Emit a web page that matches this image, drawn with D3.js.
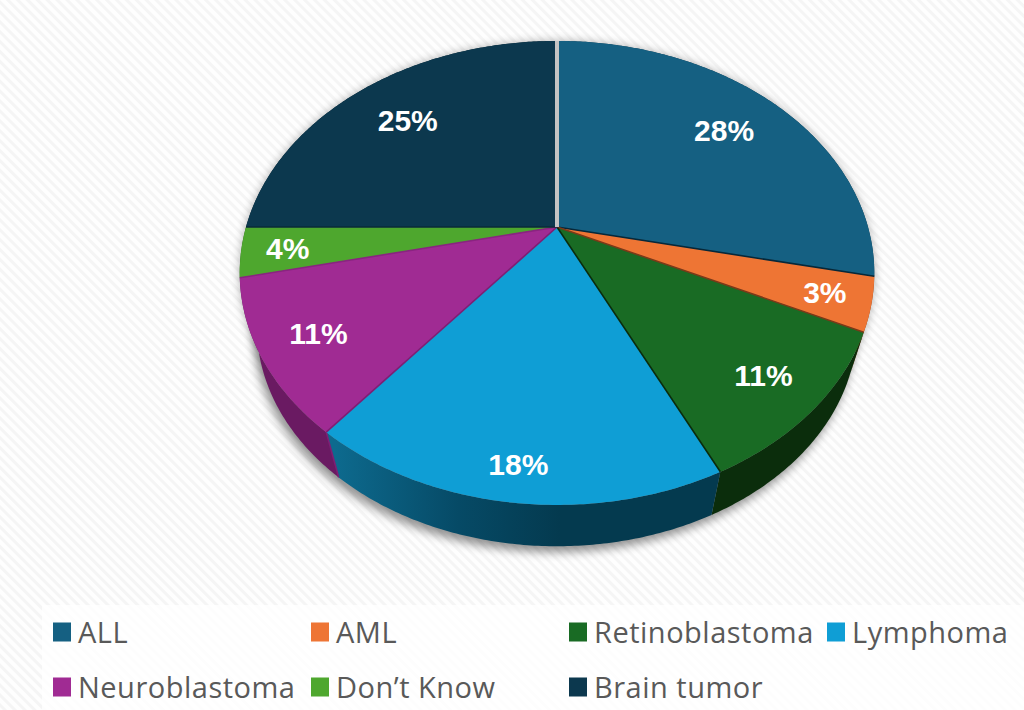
<!DOCTYPE html>
<html lang="en">
<head>
    <meta charset="UTF-8" />
    <title>Pie chart</title>
    <script src="https://d3js.org/d3.v7.min.js"></script>
    <style>
        html, body { margin: 0; padding: 0; background: #fff; }
        svg { display: block; }
        .pct { font-family: "Liberation Sans", sans-serif; font-weight: 700; font-size: 30px; fill: #fff; text-anchor: middle; dominant-baseline: central; }
        .legend-text { font-family: "Open Sans", sans-serif; font-size: 29px; letter-spacing: 0.5px; fill: #595959; dominant-baseline: central; }
    </style>
</head>
<body>
    <script>
        // data (slice widths) and its printed labels
        const categories = ["ALL", "AML", "Retinoblastoma", "Lymphoma", "Neuroblastoma", "Don\u2019t Know", "Brain tumor"];
        const shares = [28.4, 3.7, 10.8, 17.9, 10.7, 3.5, 25];
        const percentLabels = ["28%", "3%", "11%", "18%", "11%", "4%", "25%"];

        const colors = ["#156082", "#ee7534", "#196b24", "#0f9ed5", "#a02b93", "#4ea72e", "#0c384e"];
        const edgeColors = ["#06283a", "#7a3a18", "#0a2c0c", "#7e1f74", "#8a2480", "#0a2a3a", "#c4c4c4"];
        const wallColors = ["#0d3a50", "#8a4018", "#0b2d0c", "url(#lymphWall)", "#6a1a62", "#2c6019", "#082230"];
        const labelRadius = [0.755, 0.86, 0.83, 0.885, 0.825, 0.855, 0.75];

        const width = 1024, height = 710;

        // perspective of the tilted disc
        const cx = 557, cy = 227, ax = 311, ay = 222.9, k = 0.198;
        const project = (a, r) => {
            const u = r * Math.sin(a), d = -r * Math.cos(a), w = 1 - k * d;
            return [cx + ax * u / w, cy + ay * d / w];
        };
        // lower rim is the same disc, pulled toward a far point
        const depth = 0.946, farY = 1270;
        const lower = p => [cx + depth * (p[0] - cx), farY + depth * (p[1] - farY)];

        const arcPoints = (a0, a1) => {
            const n = Math.max(2, Math.ceil((a1 - a0) / 0.01));
            return d3.range(n + 1).map(i => project(a0 + (a1 - a0) * i / n, 1));
        };
        const line = d3.line();

        const svg = d3.select("body").append("svg")
            .attr("width", width).attr("height", height);
        const defs = svg.append("defs");

        const hatch = defs.append("pattern").attr("id", "hatch")
            .attr("width", 7).attr("height", 7)
            .attr("patternUnits", "userSpaceOnUse")
            .attr("patternTransform", "rotate(45)");
        hatch.append("rect").attr("width", 7).attr("height", 7).attr("fill", "#fefefe");
        hatch.append("rect").attr("width", 7).attr("height", 3).attr("fill", "#f5f5f5");

        const blur = defs.append("filter").attr("id", "soft")
            .attr("x", "-10%").attr("y", "-10%").attr("width", "120%").attr("height", "120%");
        blur.append("feGaussianBlur").attr("stdDeviation", 5);

        const gradient = (id, x1, x2, stops) => {
            const g = defs.append("linearGradient").attr("id", id)
                .attr("gradientUnits", "userSpaceOnUse")
                .attr("x1", x1).attr("x2", x2).attr("y1", 0).attr("y2", 0);
            stops.forEach(s => g.append("stop").attr("offset", s[0]).attr("stop-color", s[1]));
        };
        gradient("lymphWall", 335, 560, [[0, "#0d6a8e"], [0.55, "#064a66"], [1, "#043a4f"]]);

        svg.append("rect").attr("width", width).attr("height", height).attr("fill", "url(#hatch)");

        // legend panel
        svg.append("rect").attr("x", 42).attr("y", 605).attr("width", width - 42).attr("height", height - 605)
            .attr("fill", "#fff").attr("opacity", 0.8);

        const pie = d3.pie().sort(null).value(d => d);
        const arcs = pie(shares);
        const full = arcPoints(0, 2 * Math.PI);

        // soft shadow under the disc
        svg.append("path")
            .attr("d", line(full.map(lower)) + "Z")
            .attr("transform", "translate(-3,6)")
            .attr("fill", "#000").attr("opacity", 0.42)
            .attr("filter", "url(#soft)");
        svg.append("path")
            .attr("d", line(full) + "Z")
            .attr("fill", "#000").attr("opacity", 0.3)
            .attr("filter", "url(#soft)");

        // side walls
        svg.append("g").selectAll("path").data(arcs).enter().append("path")
            .attr("d", d => {
                const top = arcPoints(d.startAngle, d.endAngle);
                return line(top.concat(top.map(lower).reverse())) + "Z";
            })
            .attr("fill", (d, i) => wallColors[i]);

        // purple seam down the wall where lymphoma meets neuroblastoma
        const seamTop = project(arcs[3].endAngle, 1), seamBottom = lower(seamTop);
        svg.append("line")
            .attr("x1", seamTop[0]).attr("y1", seamTop[1])
            .attr("x2", seamBottom[0]).attr("y2", seamBottom[1])
            .attr("stroke", edgeColors[3]).attr("stroke-width", 1.6);

        // top faces
        svg.append("g").selectAll("path").data(arcs).enter().append("path")
            .attr("d", d => line([[cx, cy]].concat(arcPoints(d.startAngle, d.endAngle))) + "Z")
            .attr("fill", (d, i) => colors[i]);

        // darker seam at the end of each slice
        svg.append("g").selectAll("line").data(arcs).enter().append("line")
            .attr("x1", cx).attr("y1", cy)
            .attr("x2", d => project(d.endAngle, 1)[0])
            .attr("y2", d => project(d.endAngle, 1)[1])
            .attr("stroke", (d, i) => edgeColors[i])
            .attr("stroke-width", (d, i) => i === arcs.length - 1 ? 4 : 1.6);

        svg.append("g").selectAll("text").data(arcs).enter().append("text")
            .attr("class", "pct")
            .attr("x", (d, i) => project((d.startAngle + d.endAngle) / 2, labelRadius[i])[0])
            .attr("y", (d, i) => project((d.startAngle + d.endAngle) / 2, labelRadius[i])[1])
            .text((d, i) => percentLabels[i]);

        // legend, four columns
        const colX = d3.scalePoint().domain(d3.range(4)).range([53, 827]);
        const rowY = d3.scalePoint().domain(d3.range(2)).range([632, 687]);
        const item = svg.append("g").selectAll("g").data(categories).enter().append("g")
            .attr("transform", (d, i) => `translate(${colX(i % 4)},${rowY(Math.floor(i / 4))})`);
        item.append("rect").attr("y", -9.5).attr("width", 18).attr("height", 19)
            .attr("fill", (d, i) => colors[i]);
        item.append("text").attr("class", "legend-text").attr("x", 25).attr("y", -1).text(d => d);
    </script>
</body>
</html>
